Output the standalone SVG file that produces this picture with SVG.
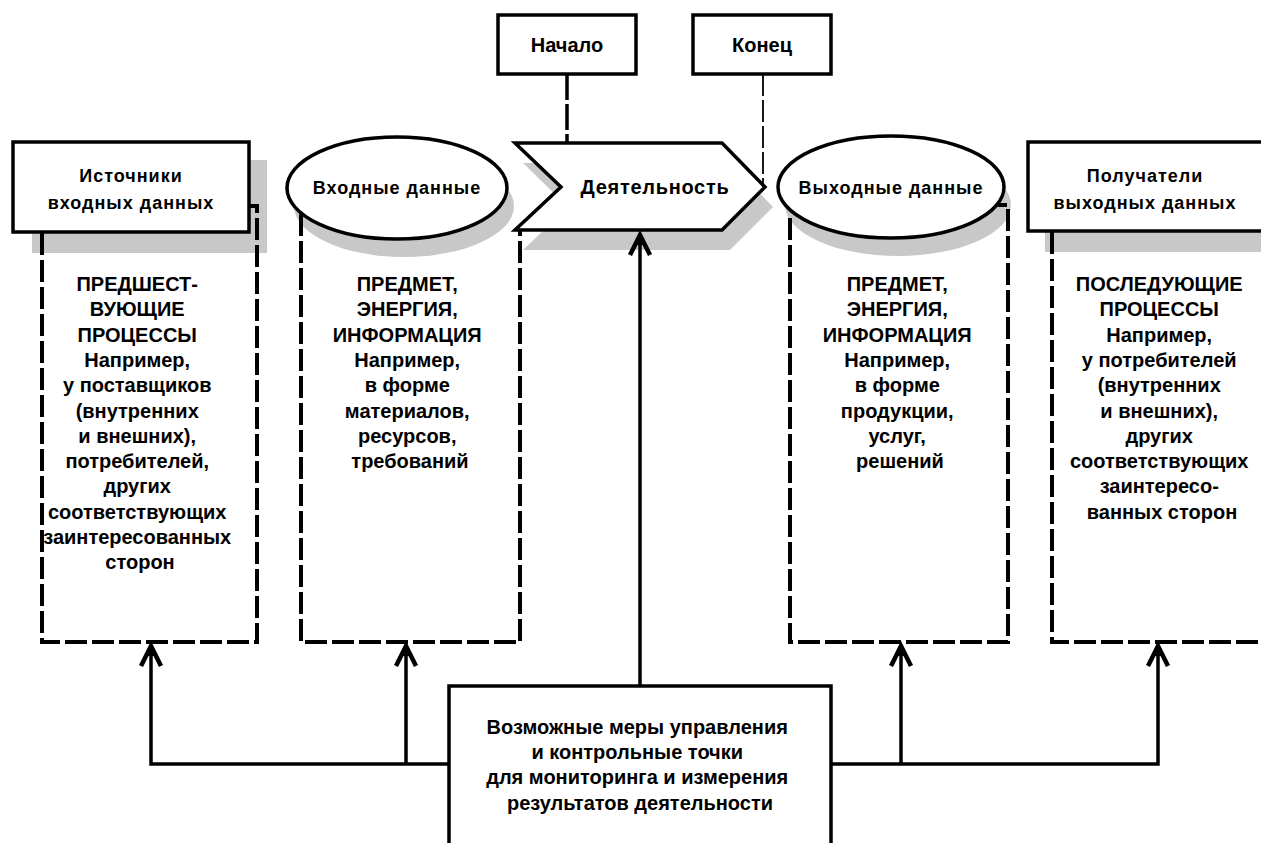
<svg xmlns="http://www.w3.org/2000/svg" width="1261" height="843" viewBox="0 0 1261 843">
<style>
.bg{fill:#ffffff}
.shadow{fill:#c8c8c8;stroke:none}
.box{fill:#ffffff;stroke:#000;stroke-width:3.5}
.col{fill:none;stroke:#000;stroke-width:4;stroke-dasharray:22 5}
.conn{fill:none;stroke:#000;stroke-width:3.5}
.t{font-family:"Liberation Sans",Arial,sans-serif;font-weight:bold;font-size:20px;fill:#000;text-anchor:middle}
.h{font-size:18px;letter-spacing:1px}
</style>
<defs>
<marker id="arr" markerUnits="userSpaceOnUse" viewBox="-24 -14 28 28" refX="0" refY="0" markerWidth="28" markerHeight="28" orient="auto">
<path d="M-21,-10 L-1,0 L-21,10" fill="none" stroke="#000" stroke-width="4.5" stroke-linejoin="miter"/>
<path d="M1,0 L-11,-5 L-11,5 Z" fill="#000"/>
</marker>
</defs>
<rect class="bg" x="0" y="0" width="1261" height="843"/>

<g id="start">
<rect class="box" x="498" y="15" width="138" height="59"/>
<text class="t" x="567" y="52">Начало</text>
</g>
<g id="end">
<rect class="box" x="693" y="15" width="138" height="59"/>
<text class="t" x="762" y="52">Конец</text>
</g>

<g id="col-sources">
<rect class="shadow" x="32" y="160" width="235" height="93"/>
<path class="col" d="M42,233 V642 H257 V206 H249"/>
<rect class="box" x="13" y="142" width="236" height="90"/>
<text class="t h" x="131" y="182">Источники</text>
<text class="t h" x="131" y="209">входных данных</text>
<text class="t" x="140">
<tspan x="140" y="291">ПРЕДШЕСТ-</tspan>
<tspan x="140" y="316">ВУЮЩИЕ</tspan>
<tspan x="140" y="342">ПРОЦЕССЫ</tspan>
<tspan x="140" y="367">Например,</tspan>
<tspan x="140" y="392">у поставщиков</tspan>
<tspan x="140" y="418">(внутренних</tspan>
<tspan x="140" y="443">и внешних),</tspan>
<tspan x="140" y="468">потребителей,</tspan>
<tspan x="140" y="493">других</tspan>
<tspan x="140" y="519">соответствующих</tspan>
<tspan x="140" y="544">заинтересованных</tspan>
<tspan x="140" y="569">сторон</tspan>
</text>
</g>

<g id="col-inputs">
<ellipse class="shadow" cx="404" cy="206" rx="110" ry="51"/>
<path class="col" d="M301,214 V642 H520 V231"/>
<ellipse class="box" cx="397" cy="188" rx="110" ry="51"/>
<text class="t h" x="397" y="194">Входные данные</text>
<text class="t" x="410">
<tspan x="410" y="291">ПРЕДМЕТ,</tspan>
<tspan x="410" y="316">ЭНЕРГИЯ,</tspan>
<tspan x="410" y="342">ИНФОРМАЦИЯ</tspan>
<tspan x="410" y="367">Например,</tspan>
<tspan x="410" y="392">в форме</tspan>
<tspan x="410" y="418">материалов,</tspan>
<tspan x="410" y="443">ресурсов,</tspan>
<tspan x="410" y="468">требований</tspan>
</text>
</g>

<g id="activity">
<polygon class="shadow" points="523,163 730,163 773,207 730,250 523,250 568,207"/>
<polygon class="box" points="515,143 722,143 765,187 722,230 515,230 561,187"/>
<text class="t" x="655" y="194" style="letter-spacing:0.7px">Деятельность</text>
</g>

<g id="col-outputs">
<ellipse class="shadow" cx="898" cy="205" rx="113" ry="51"/>
<path class="col" d="M790,218 V642 H1008 V205 H998"/>
<ellipse class="box" cx="891" cy="187" rx="113" ry="51"/>
<text class="t h" x="891" y="194">Выходные данные</text>
<text class="t" x="900">
<tspan x="900" y="291">ПРЕДМЕТ,</tspan>
<tspan x="900" y="316">ЭНЕРГИЯ,</tspan>
<tspan x="900" y="342">ИНФОРМАЦИЯ</tspan>
<tspan x="900" y="367">Например,</tspan>
<tspan x="900" y="392">в форме</tspan>
<tspan x="900" y="418">продукции,</tspan>
<tspan x="900" y="443">услуг,</tspan>
<tspan x="900" y="468">решений</tspan>
</text>
</g>

<g id="col-receivers">
<rect class="shadow" x="1045" y="160" width="240" height="92"/>
<path class="col" d="M1052,232 V642 H1275"/>
<rect class="box" x="1028" y="142" width="250" height="89"/>
<text class="t h" x="1145" y="182">Получатели</text>
<text class="t h" x="1145" y="209">выходных данных</text>
<text class="t" x="1162">
<tspan x="1162" y="291">ПОСЛЕДУЮЩИЕ</tspan>
<tspan x="1162" y="316">ПРОЦЕССЫ</tspan>
<tspan x="1162" y="342">Например,</tspan>
<tspan x="1162" y="367">у потребителей</tspan>
<tspan x="1162" y="392">(внутренних</tspan>
<tspan x="1162" y="418">и внешних),</tspan>
<tspan x="1162" y="443">других</tspan>
<tspan x="1162" y="468">соответствующих</tspan>
<tspan x="1162" y="493">заинтересо-</tspan>
<tspan x="1162" y="519">ванных сторон</tspan>
</text>
</g>

<g id="control">
<rect class="box" x="449" y="686" width="382" height="180"/>
<text class="t">
<tspan x="640" y="734">Возможные меры управления</tspan>
<tspan x="640" y="759">и контрольные точки</tspan>
<tspan x="640" y="784">для мониторинга и измерения</tspan>
<tspan x="640" y="810">результатов деятельности</tspan>
</text>
</g>

<g id="connectors">
<path d="M567,74 V143" fill="none" stroke="#000" stroke-width="3.5" stroke-dasharray="26 4"/>
<path d="M763,74 V187" fill="none" stroke="#000" stroke-width="1.8" stroke-dasharray="22 4"/>
<path class="conn" d="M640,686 V234" marker-end="url(#arr)"/>
<path class="conn" d="M449,764 H151 V645" marker-end="url(#arr)"/>
<path class="conn" d="M406,764 V645" marker-end="url(#arr)"/>
<path class="conn" d="M831,764 H1158 V645" marker-end="url(#arr)"/>
<path class="conn" d="M901,764 V645" marker-end="url(#arr)"/>
</g>
</svg>
